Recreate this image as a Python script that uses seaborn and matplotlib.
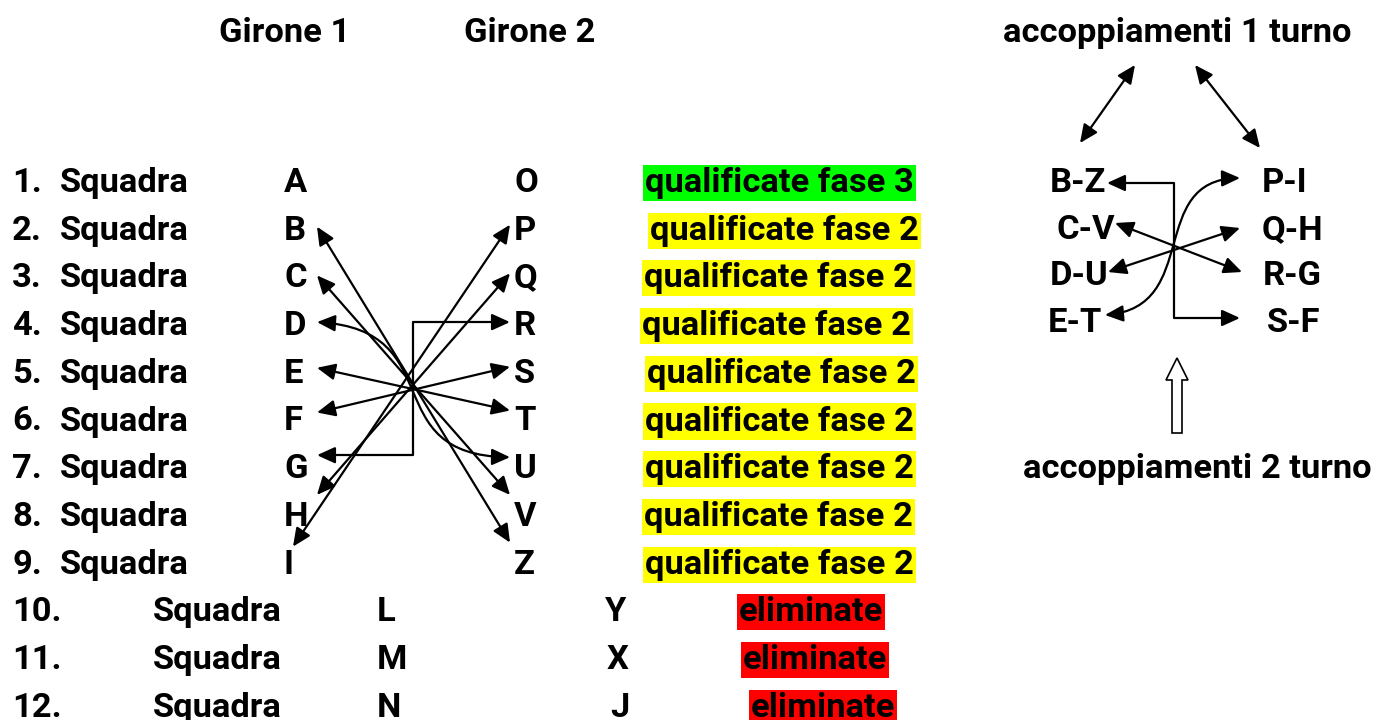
import seaborn as sns
import matplotlib.pyplot as plt
import matplotlib.patches as mpatches
from matplotlib.path import Path

# Dati della tabella
numeri = [f'{i}.' for i in range(1, 13)]
girone1 = ['A', 'B', 'C', 'D', 'E', 'F', 'G', 'H', 'I', 'L', 'M', 'N']
girone2 = ['O', 'P', 'Q', 'R', 'S', 'T', 'U', 'V', 'Z', 'Y', 'X', 'J']
esiti = ['qualificate fase 3'] + ['qualificate fase 2'] * 8 + ['eliminate'] * 3
colori_esito = {'qualificate fase 3': '#00ff00',
                'qualificate fase 2': '#ffff00',
                'eliminate': '#ff0000'}

# accoppiamenti 1 turno: (riga girone 1, riga girone 2, tipo di freccia)
incroci1 = [(1, 8, 'dritta'), (2, 7, 'dritta'), (3, 6, 'curva'), (4, 5, 'dritta'),
            (5, 4, 'dritta'), (6, 3, 'gomito'), (7, 2, 'dritta'), (8, 1, 'dritta')]

# accoppiamenti 2 turno
coppie_sx = ['B-Z', 'C-V', 'D-U', 'E-T']
coppie_dx = ['P-I', 'Q-H', 'R-G', 'S-F']
incroci2 = [(0, 3, 'gomito'), (1, 2, 'dritta'), (2, 1, 'dritta'), (3, 0, 'curva')]

# Impaginazione (pixel)
y0, passo = 181, 47.7
righe_y = [y0 + i * passo for i in range(12)]
x_squadra = [60] * 9 + [153] * 3
x_g1 = [284] * 9 + [377] * 3
x_g2 = [514] * 9 + [605, 607, 610]
x_esito = [645, 650, 644, 642, 647, 645, 645, 644, 645, 739, 743, 751]
scarto_sx = [0, -2, -1, -2, -4, -7, -12, -20, -16]
scarto_dx = [0, -4, -3, -2, -5, -9, -10, -20, -20]
punta_sx_x = [317] * 8 + [293]
centro1_x = 413

y2_0, passo2 = 181, 46.7
x_coppie_sx = [1050, 1057, 1050, 1048]
x_coppie_dx = [1262, 1262, 1263, 1267]
punte2_sx = [(1107, 183), (1115, 223), (1108, 272), (1105, 315)]
punte2_dx = [(1240, 178), (1240, 228), (1242, 272), (1240, 318)]
centro2_x = 1174

sns.set_theme(style='white')
plt.rcParams['font.family'] = ['Roboto', 'DejaVu Sans']

fig = plt.figure(figsize=(13.76, 7.2), dpi=100)
ax = fig.add_axes([0, 0, 1, 1])
ax.set_xlim(0, 1376)
ax.set_ylim(720, 0)
ax.axis('off')

testo = dict(fontsize=24.8, fontweight='bold', color='black', va='baseline')
stile = '<|-|>,head_length=0.55,head_width=0.25'


def freccia(p0, p1, tipo, xc):
    if tipo == 'gomito':
        verts = [p0, (xc, p0[1]), (xc, p1[1]), p1]
        codes = [Path.MOVETO] + [Path.LINETO] * 3
    elif tipo == 'curva':
        a = 0.4 * (xc - p0[0])
        c1 = (xc + a, p0[1] + (p1[1] - p0[1]) * 0.06)
        c2 = (xc - a, p1[1] - (p1[1] - p0[1]) * 0.015)
        verts = [p0, c1, c2, p1]
        codes = [Path.MOVETO, Path.CURVE4, Path.CURVE4, Path.CURVE4]
    else:
        verts = [p0, p1]
        codes = [Path.MOVETO, Path.LINETO]
    ax.add_patch(mpatches.FancyArrowPatch(path=Path(verts, codes), arrowstyle=stile,
                                          mutation_scale=20, lw=1.6, color='black'))


# Intestazioni
ax.text(285, 42, 'Girone 1', ha='center', **testo)
ax.text(530, 42, 'Girone 2', ha='center', **testo)
ax.text(1177, 42, 'accoppiamenti 1 turno', ha='center', **testo)
ax.text(1197, 478, 'accoppiamenti 2 turno', ha='center', **testo)

# Tabella
for i, y in enumerate(righe_y):
    yb = y + 11
    ax.text(12, yb, numeri[i], ha='left', **testo)
    ax.text(x_squadra[i], yb, 'Squadra', ha='left', **testo)
    ax.text(x_g1[i], yb, girone1[i], ha='left', **testo)
    ax.text(x_g2[i], yb, girone2[i], ha='left', **testo)
    ax.text(x_esito[i], yb, esiti[i], ha='left',
            bbox=dict(boxstyle='square,pad=0.06', fc=colori_esito[esiti[i]], ec='none'),
            **testo)

# Frecce 1 turno
for a, b, tipo in incroci1:
    p0 = (punta_sx_x[a], righe_y[a] + scarto_sx[a])
    p1 = (510, righe_y[b] + scarto_dx[b])
    freccia(p0, p1, tipo, centro1_x)

# Schema 2 turno
for i in range(4):
    yb = y2_0 + i * passo2 + 11
    ax.text(x_coppie_sx[i], yb, coppie_sx[i], ha='left', **testo)
    ax.text(x_coppie_dx[i], yb, coppie_dx[i], ha='left', **testo)

for a, b, tipo in incroci2:
    freccia(punte2_sx[a], punte2_dx[b], tipo, centro2_x)

freccia((1080, 143), (1135, 65), 'dritta', 0)
freccia((1260, 148), (1195, 65), 'dritta', 0)

ax.add_patch(mpatches.FancyArrow(1177, 433, 0, -75, width=10, head_width=22,
                                 head_length=22, length_includes_head=True,
                                 fc='white', ec='black', lw=1.2))

fig.savefig('out.png', dpi=100)
